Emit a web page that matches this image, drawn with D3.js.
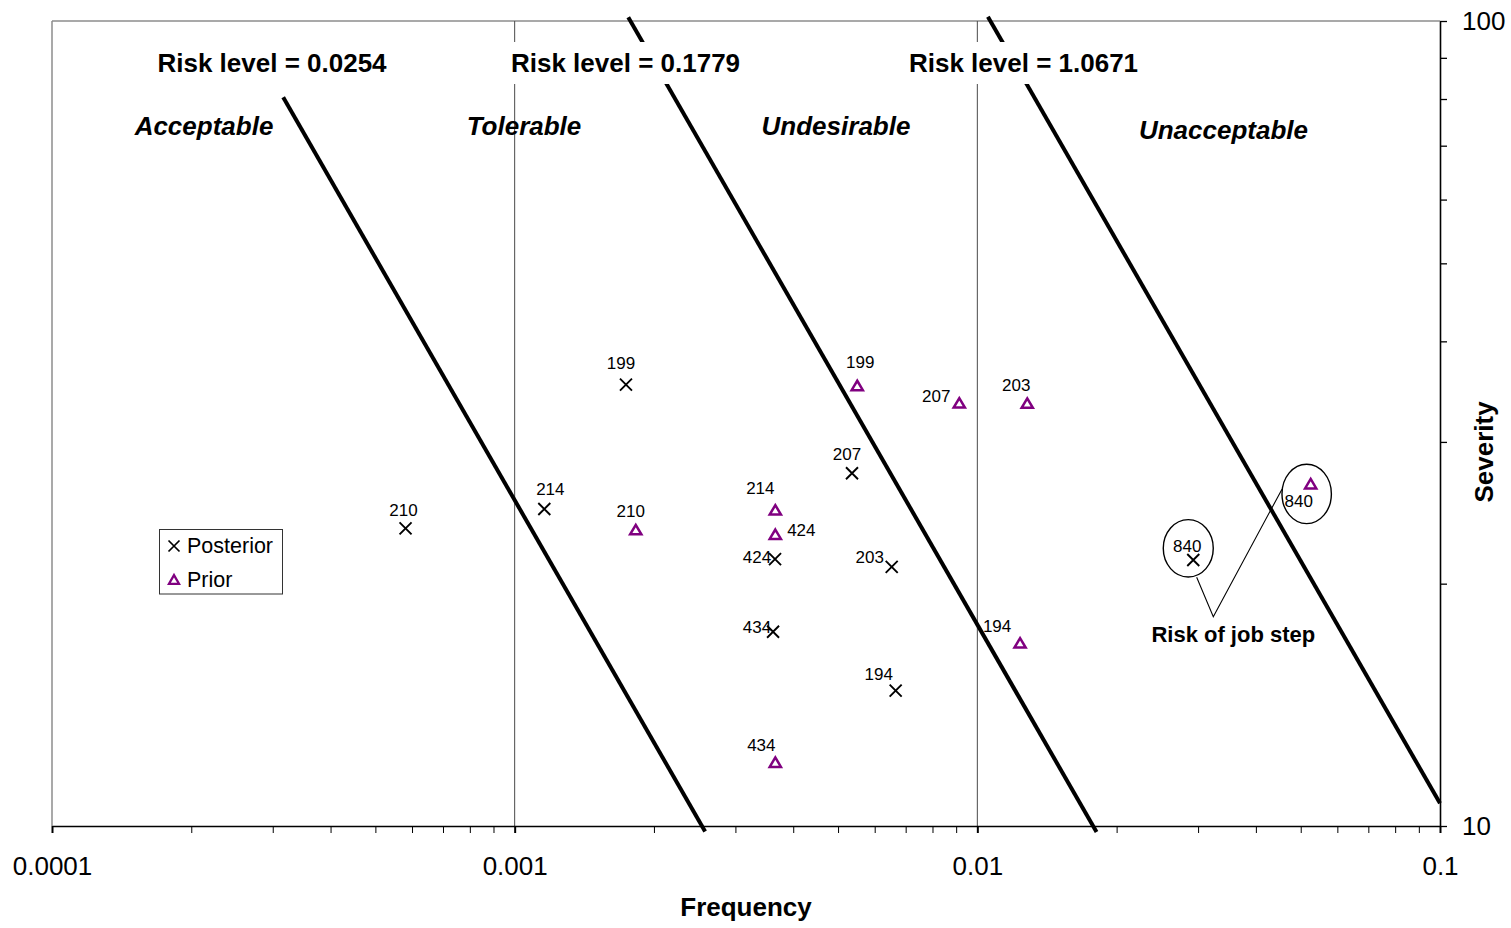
<!DOCTYPE html>
<html>
<head>
<meta charset="utf-8">
<script src="https://cdn.jsdelivr.net/npm/d3@7"></script>
<style>
  body { margin: 0; background: #ffffff; }
  svg { display: block; font-family: "Liberation Sans", Arial, Helvetica, sans-serif; }
</style>
</head>
<body>
<svg id="chart" width="1511" height="928"></svg>
<script>
// ---- data -------------------------------------------------------------
// Job step identifiers (same order for both series)
const stepIds = ["210", "214", "199", "207", "424", "203", "434", "194", "840"];

// Posterior estimates: frequency and severity per job step
const posteriorFreq = [0.000581, 0.001159, 0.00174, 0.005359, 0.003654, 0.00653, 0.003618, 0.00666, 0.02929];
const posteriorSev  = [23.43, 24.76, 35.34, 27.43, 21.45, 20.98, 17.43, 14.73, 21.40];

// Prior estimates: frequency and severity per job step
const priorFreq = [0.001827, 0.003659, 0.005501, 0.009141, 0.003659, 0.01282, 0.003659, 0.01237, 0.05254];
const priorSev  = [23.38, 24.74, 35.31, 33.60, 23.07, 33.57, 12.02, 16.91, 26.66];

// Iso-risk boundaries (risk = frequency x severity) and the frequency span of each line
const riskLevels = [0.0254, 0.1779, 1.0671];
const riskLineFreqSpan = [[0.000316, 0.00258], [0.00176, 0.0181], [0.01054, 0.1]];

// Risk zones between the boundaries
const zoneNames = ["Acceptable", "Tolerable", "Undesirable", "Unacceptable"];

// Axis ticks
const xMajorTicks = [0.0001, 0.001, 0.01, 0.1];
const xTickLabels = ["0.0001", "0.001", "0.01", "0.1"];
const yMajorTicks = [10, 100];
const yTickLabels = ["10", "100"];
const gridFreqs = [0.001, 0.01];

// ---- layout -----------------------------------------------------------
const plot = { left: 52, right: 1440, top: 21, bottom: 826 };

// label offsets (px) of each data label from its marker centre
const posteriorLabelOffset = [[-2, -18], [6, -20], [-5, -22], [-5, -19], [-18, -2], [-22, -10], [-16, -5], [-17, -17], [-6, -14]];
const priorLabelOffset     = [[-5, -18], [-15, -21], [3, -23], [-23, -6], [26, -4], [-11, -18], [-14, -17], [-23, -16], [-12, 18]];

const riskLabelPos = [[272, 72], [625.5, 72], [1023.5, 72]];
const zoneLabelPos = [[204, 135], [524, 135], [836, 135], [1223.5, 139]];

const svg = d3.select("#chart");

const x = d3.scaleLog().domain([1e-4, 0.1]).range([plot.left, plot.right]);
const y = d3.scaleLog().domain([10, 100]).range([plot.bottom, plot.top]);

const isMajor = (v, majors) => majors.findIndex(m => Math.abs(Math.log10(v) - Math.log10(m)) < 1e-6);

// ---- plot frame (top/left borders) ------------------------------------
svg.append("line")
  .attr("x1", plot.left).attr("x2", plot.left)
  .attr("y1", plot.top).attr("y2", plot.bottom)
  .attr("stroke", "#8c8c8c").attr("stroke-width", 1.5);
svg.append("line")
  .attr("x1", plot.left).attr("x2", plot.right)
  .attr("y1", plot.top).attr("y2", plot.top)
  .attr("stroke", "#8c8c8c").attr("stroke-width", 1.5);

// ---- vertical gridlines ------------------------------------------------
svg.append("g").selectAll("line")
  .data(gridFreqs)
  .join("line")
  .attr("x1", d => x(d)).attr("x2", d => x(d))
  .attr("y1", plot.top).attr("y2", plot.bottom)
  .attr("stroke", "#4a4a4a").attr("stroke-width", 1);

// ---- axes ---------------------------------------------------------------
const xAxis = d3.axisBottom(x)
  .tickValues(x.ticks())
  .tickSize(7)
  .tickSizeOuter(0)
  .tickPadding(24)
  .tickFormat(d => { const i = isMajor(d, xMajorTicks); return i >= 0 ? xTickLabels[i] : ""; });

const gx = svg.append("g")
  .attr("transform", `translate(0,${plot.bottom})`)
  .call(xAxis);
gx.select(".domain").attr("stroke", "#000").attr("stroke-width", 1.6);
gx.selectAll(".tick line")
  .attr("stroke", "#000")
  .attr("stroke-width", d => isMajor(d, xMajorTicks) >= 0 ? 2 : 1);
gx.selectAll(".tick text")
  .attr("fill", "#000")
  .style("font-size", "26px");

const yAxis = d3.axisRight(y)
  .tickValues(y.ticks())
  .tickSize(7)
  .tickSizeOuter(0)
  .tickPadding(15)
  .tickFormat(d => { const i = isMajor(d, yMajorTicks); return i >= 0 ? yTickLabels[i] : ""; });

const gy = svg.append("g")
  .attr("transform", `translate(${plot.right},0)`)
  .call(yAxis);
gy.select(".domain").attr("stroke", "#000").attr("stroke-width", 1.6);
gy.selectAll(".tick line").attr("stroke", "#000").attr("stroke-width", 1.3);
gy.selectAll(".tick text")
  .attr("fill", "#000")
  .attr("text-anchor", "start")
  .style("font-size", "26px");

// axis titles
svg.append("text")
  .attr("x", (plot.left + plot.right) / 2)
  .attr("y", 916)
  .attr("text-anchor", "middle")
  .style("font-size", "26px").style("font-weight", "bold")
  .text("Frequency");

svg.append("text")
  .attr("transform", "translate(1484,452) rotate(-90)")
  .attr("dy", "0.35em")
  .attr("text-anchor", "middle")
  .style("font-size", "26px").style("font-weight", "bold")
  .text("Severity");

// ---- iso-risk lines ----------------------------------------------------
const riskLine = d3.line().x(d => x(d[0])).y(d => y(d[1]));
svg.append("g").selectAll("path")
  .data(riskLevels.map((r, i) => riskLineFreqSpan[i].map(f => [f, r / f])))
  .join("path")
  .attr("d", riskLine)
  .attr("fill", "none")
  .attr("stroke", "#000")
  .attr("stroke-width", 4);

// risk level captions on white boxes
const riskLabels = svg.append("g");
riskLevels.forEach((r, i) => {
  const g = riskLabels.append("g");
  const t = g.append("text")
    .attr("x", riskLabelPos[i][0]).attr("y", riskLabelPos[i][1])
    .attr("text-anchor", "middle")
    .style("font-size", "26px").style("font-weight", "bold")
    .text(`Risk level = ${r}`);
  const bb = t.node().getBBox();
  g.insert("rect", "text")
    .attr("x", bb.x - 6).attr("y", bb.y - 6)
    .attr("width", bb.width + 12).attr("height", bb.height + 12)
    .attr("fill", "#fff");
});

// zone names
svg.append("g").selectAll("text")
  .data(zoneNames)
  .join("text")
  .attr("x", (d, i) => zoneLabelPos[i][0])
  .attr("y", (d, i) => zoneLabelPos[i][1])
  .attr("text-anchor", "middle")
  .style("font-size", "26px").style("font-weight", "bold").style("font-style", "italic")
  .text(d => d);

// ---- markers -----------------------------------------------------------
const xMark = "M-6,-6L6,6M-6,6L6,-6";
const triMark = "M0,-4.2L5.6,5.2L-5.6,5.2Z";
const purple = "#800080";

const posterior = stepIds.map((id, i) => ({ id, f: posteriorFreq[i], s: posteriorSev[i], off: posteriorLabelOffset[i] }));
const prior = stepIds.map((id, i) => ({ id, f: priorFreq[i], s: priorSev[i], off: priorLabelOffset[i] }));

svg.append("g").selectAll("path")
  .data(prior)
  .join("path")
  .attr("transform", d => `translate(${x(d.f)},${y(d.s)})`)
  .attr("d", triMark)
  .attr("fill", "none")
  .attr("stroke", purple)
  .attr("stroke-width", 2.5);

svg.append("g").selectAll("path")
  .data(posterior)
  .join("path")
  .attr("transform", d => `translate(${x(d.f)},${y(d.s)})`)
  .attr("d", xMark)
  .attr("fill", "none")
  .attr("stroke", "#000")
  .attr("stroke-width", 1.9);

// data labels
svg.append("g").selectAll("text")
  .data(posterior.concat(prior))
  .join("text")
  .attr("x", d => x(d.f) + d.off[0])
  .attr("y", d => y(d.s) + d.off[1])
  .attr("dy", "0.35em")
  .attr("text-anchor", "middle")
  .style("font-size", "17px")
  .text(d => d.id);

// ---- callout for step 840 ---------------------------------------------
const post840 = posterior[stepIds.indexOf("840")];
const prior840 = prior[stepIds.indexOf("840")];
const p1 = [x(post840.f), y(post840.s)];
const p2 = [x(prior840.f), y(prior840.s)];
const e1 = { cx: p1[0] - 5, cy: p1[1] - 11.7, rx: 25, ry: 28.7 };
const e2 = { cx: p2[0] - 4, cy: p2[1] + 10.7, rx: 24.7, ry: 29.7 };

const callout = svg.append("g").attr("fill", "none").attr("stroke", "#000");
[e1, e2].forEach(e => {
  callout.append("ellipse")
    .attr("cx", e.cx).attr("cy", e.cy).attr("rx", e.rx).attr("ry", e.ry)
    .attr("stroke-width", 1.4);
});
callout.append("polyline")
  .attr("points", [
    [e1.cx + 8.4, e1.cy + 29],
    [1213.3, 616.7],
    [e2.cx - e2.rx, e2.cy - 4.7]
  ].map(p => p.join(",")).join(" "))
  .attr("stroke-width", 1.1);

svg.append("text")
  .attr("x", 1233.3).attr("y", 642)
  .attr("text-anchor", "middle")
  .style("font-size", "22px").style("font-weight", "bold")
  .text("Risk of job step");

// ---- legend -------------------------------------------------------------
const legend = svg.append("g");
legend.append("rect")
  .attr("x", 159.5).attr("y", 529.5).attr("width", 123).attr("height", 64.5)
  .attr("fill", "#fff").attr("stroke", "#333").attr("stroke-width", 1);
legend.append("path")
  .attr("transform", "translate(174,546)")
  .attr("d", "M-5.5,-5.5L5.5,5.5M-5.5,5.5L5.5,-5.5")
  .attr("fill", "none").attr("stroke", "#000").attr("stroke-width", 1.7);
legend.append("path")
  .attr("transform", "translate(174,579)")
  .attr("d", "M0,-3.9L5,4.8L-5,4.8Z")
  .attr("fill", "none").attr("stroke", purple).attr("stroke-width", 2.3);
legend.append("text")
  .attr("x", 187).attr("y", 553.3)
  .style("font-size", "21.5px")
  .text("Posterior");
legend.append("text")
  .attr("x", 187).attr("y", 586.7)
  .style("font-size", "21.5px")
  .text("Prior");
</script>
</body>
</html>
